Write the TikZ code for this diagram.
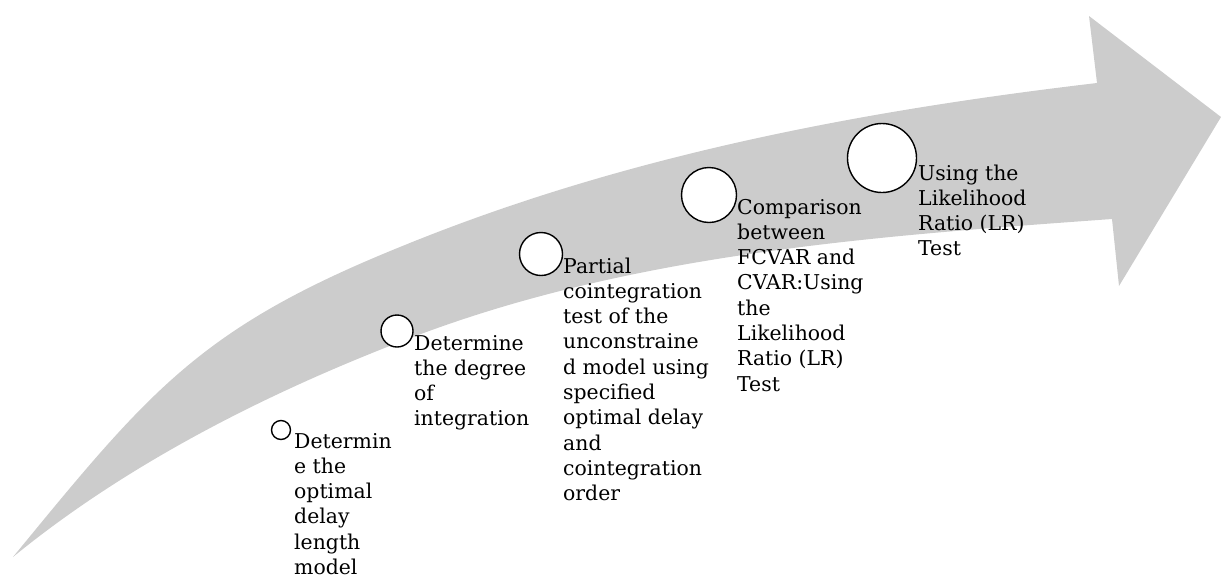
\documentclass[tikz,border=0pt]{standalone}
\usepackage{fontspec}
\setmainfont{DejaVu Serif}
\definecolor{arrowgray}{RGB}{204,204,204}
\tikzset{
  stepdot/.style={circle, draw=black, fill=white, line width=1.4pt, inner sep=0pt},
  steptext/.style={anchor=base west, inner sep=0pt, font=\fontsize{20.4}{25.3}\selectfont}
}
\newcommand{\steplines}[1]{\begin{tabular}[t]{@{}l@{}}#1\end{tabular}}
\begin{document}
\begin{tikzpicture}[x=1pt,y=-1pt]
\useasboundingbox (0,0) rectangle (1221,574);
% curved arrow
\coordinate (tail) at (13,557);
\fill[arrowgray]
  (tail) .. controls (150,390) and (200,328) .. (400,247)
  .. controls (622,156) and (859,111) .. (1097,83)
  -- (1089,16) -- (1221,117) -- (1119,286) -- (1112,219)
  .. controls (877,236) and (634,253) .. (413,337)
  .. controls (273,390) and (129,462) .. (tail)
  -- cycle;
% circles
\node[stepdot, minimum size=19pt] (c1) at (281,430) {};
\node[stepdot, minimum size=32pt] (c2) at (397,331) {};
\node[stepdot, minimum size=43pt] (c3) at (541,254) {};
\node[stepdot, minimum size=55pt] (c4) at (709,195) {};
\node[stepdot, minimum size=69pt] (c5) at (882,158) {};
% texts
\node[steptext] (t1) at (294,448) {\steplines{Determin\\e the\\optimal\\delay\\length\\model}};
\node[steptext] (t2) at (414,350) {\steplines{Determine\\the degree\\of\\integration}};
\node[steptext] (t3) at (563,273) {\steplines{Partial\\cointegration\\test of the\\unconstraine\\d model using\\specified\\optimal delay\\and\\cointegration\\order}};
\node[steptext] (t4) at (737,214) {\steplines{Comparison\\between\\FCVAR and\\CVAR:Using\\the\\Likelihood\\Ratio (LR)\\Test}};
\node[steptext] (t5) at (918,180) {\steplines{Using the\\Likelihood\\Ratio (LR)\\Test}};
\end{tikzpicture}
\end{document}
